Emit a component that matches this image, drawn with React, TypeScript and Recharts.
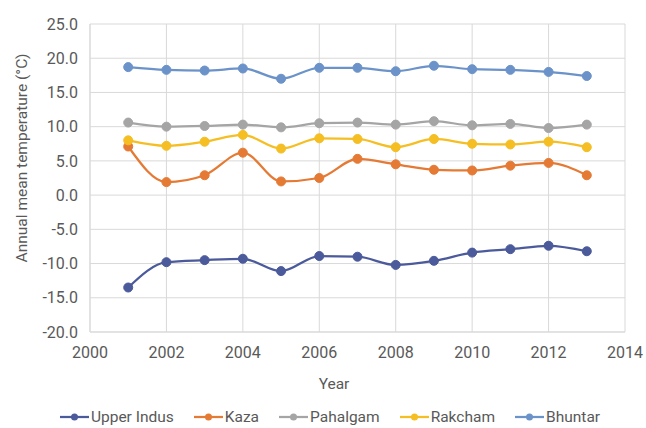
import {
  CartesianGrid,
  Legend,
  Line,
  LineChart,
  XAxis,
  YAxis,
} from "recharts";

const FONT = "Roboto, 'Noto Sans', sans-serif";
const TEXT = "#595959";
const GRID = "#d9d9d9";

const years = [2001, 2002, 2003, 2004, 2005, 2006, 2007, 2008, 2009, 2010, 2011, 2012, 2013];
const upperIndus = [-13.5, -9.8, -9.5, -9.3, -11.1, -8.9, -9.0, -10.2, -9.6, -8.4, -7.9, -7.4, -8.2];
const kaza = [7.1, 1.9, 2.9, 6.2, 2.0, 2.5, 5.3, 4.5, 3.7, 3.6, 4.3, 4.7, 2.9];
const pahalgam = [10.6, 10.0, 10.1, 10.3, 9.9, 10.5, 10.6, 10.3, 10.8, 10.2, 10.4, 9.8, 10.3];
const rakcham = [8.0, 7.2, 7.8, 8.8, 6.8, 8.3, 8.2, 7.0, 8.2, 7.5, 7.4, 7.8, 7.0];
const bhuntar = [18.7, 18.3, 18.2, 18.5, 17.0, 18.6, 18.6, 18.1, 18.9, 18.4, 18.3, 18.0, 17.4];

const xTicks = [2000, 2002, 2004, 2006, 2008, 2010, 2012, 2014];
const yTicks = [-20, -15, -10, -5, 0, 5, 10, 15, 20, 25];

const series = [
  { key: "upperIndus", name: "Upper Indus", color: "#4B5A9B" },
  { key: "kaza", name: "Kaza", color: "#E57A34" },
  { key: "pahalgam", name: "Pahalgam", color: "#A5A5A5" },
  { key: "rakcham", name: "Rakcham", color: "#F5BE22" },
  { key: "bhuntar", name: "Bhuntar", color: "#6B93C9" },
];

const data = years.map((year, i) => ({
  year,
  upperIndus: upperIndus[i],
  kaza: kaza[i],
  pahalgam: pahalgam[i],
  rakcham: rakcham[i],
  bhuntar: bhuntar[i],
}));

function LegendContent() {
  return (
    <div
      style={{
        display: "flex",
        justifyContent: "center",
        gap: 20,
        fontFamily: FONT,
        fontSize: 15.5,
        color: TEXT,
        paddingLeft: 14,
      }}
    >
      {series.map((s) => (
        <div key={s.key} style={{ display: "flex", alignItems: "center", gap: 2 }}>
          <svg width={29} height={10}>
            <line x1={0} y1={5} x2={29} y2={5} stroke={s.color} strokeWidth={2.25} />
            <circle cx={14.5} cy={5} r={3.5} fill={s.color} />
          </svg>
          <span>{s.name}</span>
        </div>
      ))}
    </div>
  );
}

export default function App() {
  return (
    <div
      style={{
        position: "fixed",
        left: 0,
        top: 0,
        width: 646,
        height: 428,
        background: "#fff",
      }}
    >
      <LineChart
        width={646}
        height={428}
        data={data}
        margin={{ top: 24, right: 21, left: 0, bottom: 0 }}
      >
        <CartesianGrid stroke={GRID} strokeWidth={1} />
        <XAxis
          type="number"
          dataKey="year"
          domain={[2000, 2014]}
          ticks={xTicks}
          height={96}
          axisLine={{ stroke: GRID }}
          tickLine={false}
          tickMargin={9}
          tick={{ fontSize: 16, fill: TEXT, fontFamily: FONT }}
          label={() => (
            <text
              x={334}
              y={389}
              textAnchor="middle"
              fontSize={15.5}
              fill={TEXT}
              fontFamily={FONT}
            >
              Year
            </text>
          )}
        />
        <YAxis
          type="number"
          domain={[-20, 25]}
          ticks={yTicks}
          width={90}
          axisLine={{ stroke: GRID }}
          tickLine={false}
          tickMargin={6}
          tickFormatter={(v: number) => v.toFixed(1)}
          tick={{ fontSize: 16, fill: TEXT, fontFamily: FONT }}
          label={() => (
            <text
              x={0}
              y={0}
              transform="translate(27, 158) rotate(-90)"
              textAnchor="middle"
              fontSize={15.5}
              fill={TEXT}
              fontFamily={FONT}
            >
              Annual mean temperature (°C)
            </text>
          )}
        />
        <Legend
          layout="horizontal"
          verticalAlign="middle"
          align="center"
          content={<LegendContent />}
          wrapperStyle={{ top: 408, left: 0, width: 646 }}
        />
        {series.map((s) => (
          <Line
            key={s.key}
            type="monotone"
            dataKey={s.key}
            name={s.name}
            stroke={s.color}
            strokeWidth={2.25}
            dot={{ r: 4.5, fill: s.color, stroke: s.color, strokeWidth: 1 }}
            activeDot={false}
            isAnimationActive={false}
          />
        ))}
      </LineChart>
    </div>
  );
}
